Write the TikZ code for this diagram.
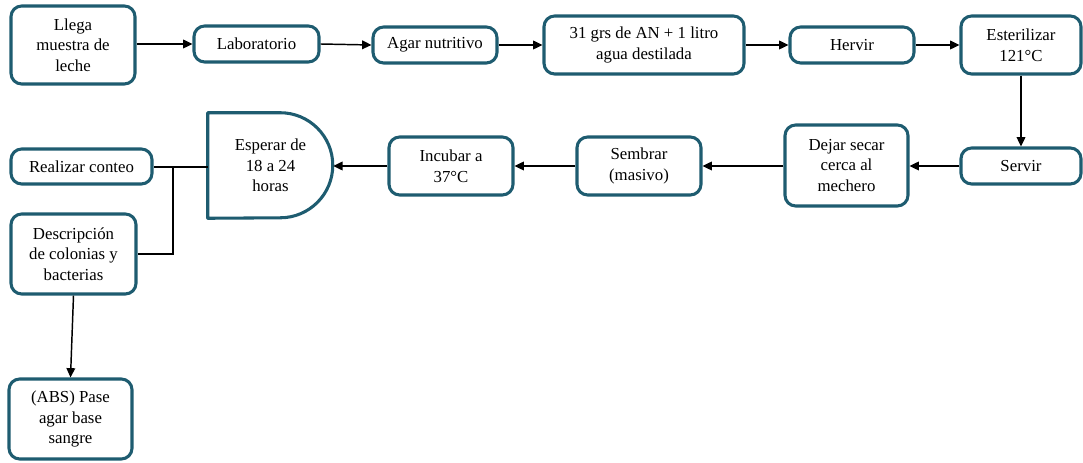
\documentclass[tikz,border=0pt]{standalone}
\usepackage{fontspec}
\setmainfont{Liberation Serif}
\usetikzlibrary{arrows.meta}
\definecolor{teal1}{RGB}{30,92,112}
\tikzset{
  box/.style={draw=teal1, line width=2.3pt, rounded corners=8pt, align=center,
    inner sep=1pt, font=\fontsize{12.6}{15.4}\selectfont, fill=white},
  txt/.style={align=center, inner sep=1pt, font=\fontsize{12.6}{15.4}\selectfont},
  conn/.style={line width=1.1pt, draw=black},
  arr/.style={conn, -{Triangle[length=7pt,width=6.5pt]}}
}
\newcommand\pbox[6]{\node[box, minimum width={(#4-#2)*0.75pt}, minimum height={(#5-#3)*0.75pt}] (#1) at ({(#2+#4)/2},{(#3+#5)/2}) {#6};}
\begin{document}
\begin{tikzpicture}[x=0.75pt,y=-0.75pt]
\useasboundingbox (0,0) rectangle (1083,463);
\pbox{llega}{11}{6}{135}{84}{Llega\\muestra de\\leche}
\pbox{lab}{194}{26}{319}{62}{Laboratorio}
\pbox{agar}{373}{27}{497}{63}{Agar nutritivo}
\pbox{grs}{544}{16}{744}{74}{31 grs de AN + 1 litro\\agua destilada}
\pbox{hervir}{790}{27}{914}{63}{Hervir}
\pbox{ester}{961}{16}{1081}{74}{Esterilizar\\121°C}
\pbox{servir}{961}{148}{1081}{184}{Servir}
\pbox{dejar}{785}{125}{908}{206}{Dejar secar\\cerca al\\mechero}
\pbox{sembrar}{577}{137}{701}{195}{Sembrar\\(masivo)}
\pbox{incubar}{389}{137}{513}{195}{Incubar a\\37°C}
\node[txt, minimum width={125*0.75pt}, minimum height={105*0.75pt}] (esp) at (270.5,165.5) {Esperar de\\18 a 24\\horas};
\draw[draw=teal1, line width=2.3pt, line join=round] (esp.north west) -- ++(72.5,0) arc[start angle=90, end angle=-90, radius=39.4pt] -- (esp.south west) -- cycle;
\pbox{conteo}{11}{149}{152}{184}{Realizar conteo}
\pbox{desc}{11}{214}{136}{294}{Descripción\\de colonias y\\bacterias}
\pbox{abs}{9}{379}{132}{459}{(ABS) Pase\\agar base\\sangre}
\coordinate (j1) at (173,167);
\coordinate (j2) at (173,254);
\draw[arr] (llega.east |- lab.west) -- (lab.west);
\draw[arr] (lab.east) -- (agar.west);
\draw[arr] (agar.east) -- (grs.west |- agar.east);
\draw[arr] (grs.east |- hervir.west) -- (hervir.west);
\draw[arr] (hervir.east) -- (ester.west |- hervir.east);
\draw[arr] (ester.south) -- (servir.north);
\draw[arr] (servir.west) -- (dejar.east |- servir.west);
\draw[arr] (dejar.west |- sembrar.east) -- (sembrar.east);
\draw[arr] (sembrar.west) -- (incubar.east);
\draw[arr] (incubar.west) -- (esp.east |- incubar.west);
\draw[conn] (esp.west |- j1) -- (conteo.east |- j1);
\draw[conn] (j1) -- (j2) -- (desc.east |- j2);
\draw[arr] (desc.south) -- (abs.north);
\end{tikzpicture}
\end{document}
